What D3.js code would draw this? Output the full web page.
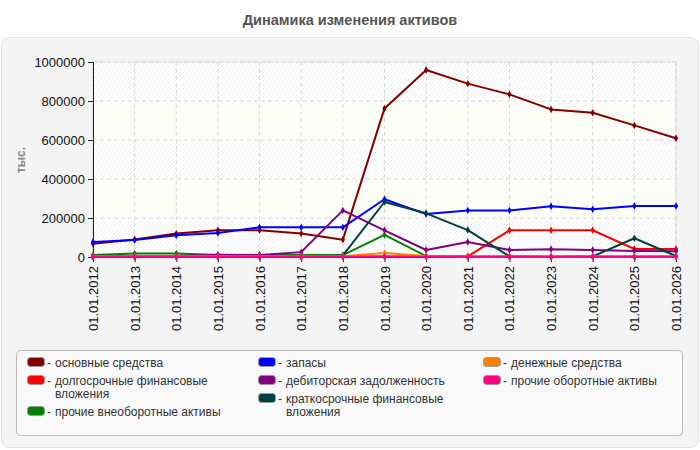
<!DOCTYPE html>
<html>
<head>
<meta charset="utf-8">
<script src="https://cdn.jsdelivr.net/npm/d3@7"></script>
<style>
  body { margin: 0; background: #fff; font-family: "Liberation Sans", Arial, sans-serif; }
</style>
</head>
<body>
<svg id="chart" width="700" height="450"></svg>
<script>
// dates on the x axis
var dates = ["01.01.2012", "01.01.2013", "01.01.2014", "01.01.2015", "01.01.2016",
  "01.01.2017", "01.01.2018", "01.01.2019", "01.01.2020", "01.01.2021",
  "01.01.2022", "01.01.2023", "01.01.2024", "01.01.2025", "01.01.2026"];

var osnovnye = [68000, 90000, 120000, 137000, 137000, 120000, 89000, 762000, 959000, 889000, 834000, 757000, 740000, 675000, 609000];
var dolgosrochnye = [2000, 2000, 2000, 2000, 2000, 2000, 2000, 2000, 2000, 3000, 137000, 137000, 137000, 41000, 41000];
var prochieVneob = [10000, 18000, 18000, 10000, 10000, 10000, 10000, 113000, 5000, 2000, 2000, 2000, 2000, 2000, 2000];
var zapasy = [77000, 87000, 111000, 123000, 152000, 152000, 152000, 296000, 220000, 239000, 239000, 260000, 245000, 262000, 262000];
var debitorskaya = [5000, 5000, 5000, 12000, 10000, 25000, 239000, 137000, 36000, 77000, 36000, 40000, 36000, 31000, 29000];
var kratkosrochnye = [0, 0, 0, 0, 0, 0, 8000, 282000, 224000, 138000, 3000, 0, 3000, 96000, 5000];
var denezhnye = [4000, 4000, 4000, 4000, 4000, 4000, 4000, 20000, 5000, 3000, 3000, 3000, 3000, 3000, 3000];
var prochieOborotnye = [1500, 1500, 1500, 1500, 1500, 1500, 1500, 2000, 1500, 1500, 1500, 1500, 1500, 1500, 1500];

var yTicks = [0, 200000, 400000, 600000, 800000, 1000000];

var series = [
  {name: "основные средства", color: "#800000", values: osnovnye},
  {name: "долгосрочные финансовые вложения", color: "#ff0000", values: dolgosrochnye},
  {name: "прочие внеоборотные активы", color: "#008000", values: prochieVneob},
  {name: "запасы", color: "#0000ff", values: zapasy},
  {name: "дебиторская задолженность", color: "#800080", values: debitorskaya},
  {name: "краткосрочные финансовые вложения", color: "#004040", values: kratkosrochnye},
  {name: "денежные средства", color: "#ff8000", values: denezhnye},
  {name: "прочие оборотные активы", color: "#ff0080", values: prochieOborotnye}
];

var svg = d3.select("#chart");

/* title and panel */
svg.append("text")
  .attr("x", 350).attr("y", 25)
  .attr("text-anchor", "middle")
  .style("font-size", "14.5px").style("font-weight", "bold").style("fill", "#555")
  .text("Динамика изменения активов");

svg.append("rect")
  .attr("x", 1.5).attr("y", 37.5).attr("width", 697).attr("height", 410)
  .attr("rx", 8).attr("ry", 8)
  .style("fill", "#f4f4f4").style("stroke", "#e2e2e2");

var defs = svg.append("defs");
var pat = defs.append("pattern")
  .attr("id", "hatch")
  .attr("patternUnits", "userSpaceOnUse")
  .attr("width", 4).attr("height", 4);
pat.append("rect").attr("width", 4).attr("height", 4).style("fill", "#fff");
pat.append("path")
  .attr("d", "M-1,1 l2,-2 M0,4 l4,-4 M3,5 l2,-2")
  .style("stroke", "#efefef").style("stroke-width", 1);

var x = d3.scalePoint().domain(dates).range([93, 676]);
var y = d3.scaleLinear().domain([0, 1000000]).range([257, 62]);

/* background bands */
var bands = yTicks.slice(0, -1);
svg.append("g").selectAll("rect")
  .data(bands)
  .enter().append("rect")
  .attr("x", 93).attr("width", 676 - 93)
  .attr("y", function(d) { return y(d + 200000); })
  .attr("height", function(d) { return y(d) - y(d + 200000); })
  .style("fill", function(d, i) { return i % 2 == 0 ? "url(#hatch)" : "#fdfdf7"; });

svg.append("rect")
  .attr("x", 93).attr("y", 62).attr("width", 676 - 93).attr("height", 195)
  .style("fill", "none").style("stroke", "#dedede");

/* grid */
svg.append("g").selectAll("line")
  .data(dates)
  .enter().append("line")
  .attr("x1", function(d) { return x(d); }).attr("x2", function(d) { return x(d); })
  .attr("y1", 62).attr("y2", 257)
  .style("stroke", "#dadada").style("stroke-dasharray", "4,3");

svg.append("g").selectAll("line")
  .data(yTicks)
  .enter().append("line")
  .attr("x1", 93).attr("x2", 676)
  .attr("y1", function(d) { return y(d); }).attr("y2", function(d) { return y(d); })
  .style("stroke", "#dadada").style("stroke-dasharray", "4,3");

/* axes */
var yAxis = svg.append("g")
  .attr("transform", "translate(93,0)")
  .call(d3.axisLeft(y).tickValues(yTicks).tickFormat(d3.format("d")).tickSize(5).tickPadding(3));
yAxis.selectAll("text").style("font-size", "13px").style("fill", "#111")
  .style("font-family", "'Liberation Sans', Arial, sans-serif");
yAxis.selectAll("line, path").style("stroke", "#222");

var xAxis = svg.append("g")
  .attr("transform", "translate(0,257)")
  .call(d3.axisBottom(x).tickSize(5).tickPadding(6));
xAxis.select(".domain").style("stroke", "#222");
xAxis.selectAll("line").style("stroke", "#222");
xAxis.selectAll("text")
  .style("font-size", "13px").style("fill", "#111")
  .style("font-family", "'Liberation Sans', Arial, sans-serif")
  .attr("text-anchor", "end")
  .attr("transform", "rotate(-90)")
  .attr("x", -9).attr("y", 0).attr("dy", "0.35em");

svg.append("text")
  .attr("transform", "translate(25,160) rotate(-90)")
  .attr("text-anchor", "middle")
  .style("font-size", "12px").style("font-weight", "bold").style("fill", "#888")
  .text("тыс.");

/* lines */
var line = d3.line()
  .x(function(d, i) { return x(dates[i]); })
  .y(function(d) { return y(d); });

var marker = d3.symbol().type(d3.symbolDiamond).size(16);

series.forEach(function(s) {
  var g = svg.append("g");
  g.append("path")
    .datum(s.values)
    .attr("d", line)
    .style("fill", "none").style("stroke", s.color).style("stroke-width", 2)
    .style("stroke-linejoin", "round");
  g.selectAll("path.m")
    .data(s.values)
    .enter().append("path")
    .attr("class", "m")
    .attr("d", marker)
    .attr("transform", function(d, i) { return "translate(" + x(dates[i]) + "," + y(d) + ")"; })
    .style("fill", s.color);
});

/* legend */
svg.append("rect")
  .attr("x", 16.5).attr("y", 350.5).attr("width", 666).attr("height", 85)
  .attr("rx", 4).attr("ry", 4)
  .style("fill", "#f9f9f9").style("stroke", "#bbb");

var colX = [27, 258, 483];
var colItems = [[0, 1, 2], [3, 4, 5], [6, 7]];
var maxW = 175;

colItems.forEach(function(items, c) {
  var yy = 367;
  items.forEach(function(idx) {
    var s = series[idx];
    var g = svg.append("g");
    g.append("rect")
      .attr("x", colX[c] + 0.5).attr("y", yy - 9.5).attr("width", 17).attr("height", 9)
      .attr("rx", 3).attr("ry", 3)
      .style("fill", s.color).style("stroke", "#999");
    g.append("text")
      .attr("x", colX[c] + 20).attr("y", yy)
      .style("font-size", "12px").style("fill", "#333")
      .text("-");
    var t = g.append("text")
      .attr("x", colX[c] + 28).attr("y", yy)
      .style("font-size", "12px").style("fill", "#333");
    var words = s.name.split(" ");
    var ts = t.append("tspan").attr("x", colX[c] + 28).attr("y", yy);
    var cur = [];
    var lines = 1;
    words.forEach(function(w) {
      cur.push(w);
      ts.text(cur.join(" "));
      if (ts.node().getComputedTextLength() > maxW && cur.length > 1) {
        cur.pop();
        ts.text(cur.join(" "));
        cur = [w];
        lines++;
        ts = t.append("tspan").attr("x", colX[c] + 28).attr("y", yy + (lines - 1) * 13).text(w);
      }
    });
    yy += lines * 13 + 5;
  });
});
</script>
</body>
</html>
